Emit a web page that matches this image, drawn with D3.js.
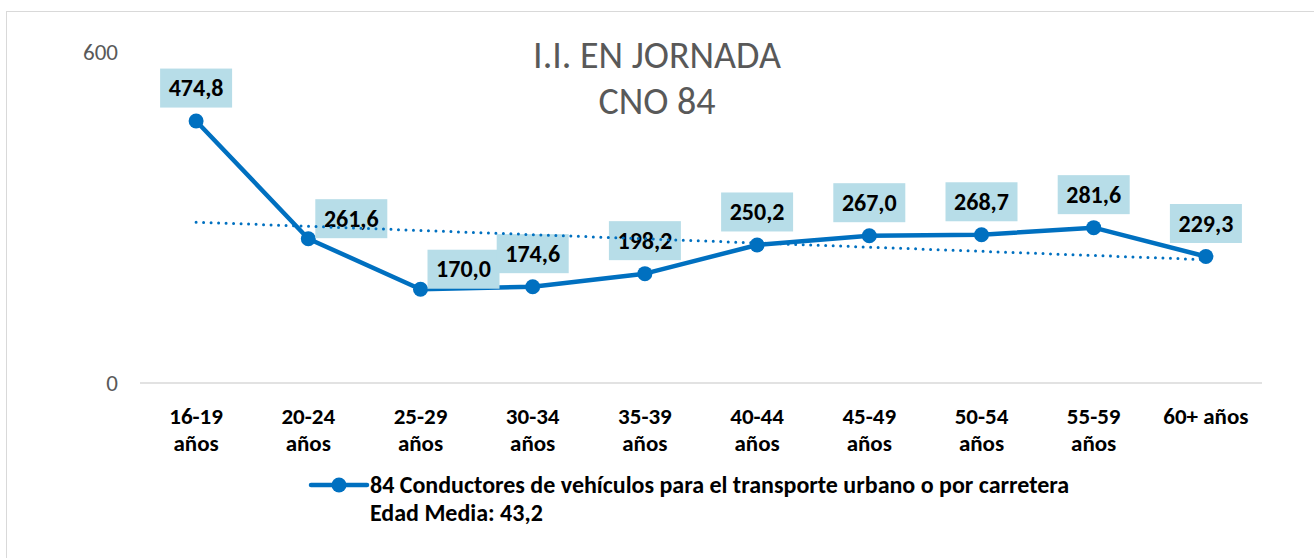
<!DOCTYPE html>
<html><head><meta charset="utf-8">
<script src="https://cdn.jsdelivr.net/npm/d3@7"></script>
<style>
html,body{margin:0;padding:0;background:#fff;}
svg{display:block;font-family:Carlito,Calibri,"Lato","Open Sans",sans-serif;}
</style></head>
<body>
<svg id="c" width="1314" height="558"></svg>
<script>
const categories = ["16-19 años","20-24 años","25-29 años","30-34 años","35-39 años","40-44 años","45-49 años","50-54 años","55-59 años","60+ años"];
const values = [474.8, 261.6, 170.0, 174.6, 198.2, 250.2, 267.0, 268.7, 281.6, 229.3];
const yTicks = [0, 600];
const titleLines = ["I.I. EN JORNADA", "CNO 84"];
const legendLines = ["84 Conductores de vehículos para el transporte urbano o por carretera", "Edad Media: 43,2"];

const svg = d3.select("#c");
const blue = "#0070c0";
const fmt = v => d3.format(".1f")(v).replace(".", ",");

// chart border
svg.append("rect").attr("x",6.5).attr("y",11.5).attr("width",1320).attr("height",560)
  .attr("fill","#fff").attr("stroke","#d9d9d9").attr("stroke-width",1);

const x = d3.scaleBand().domain(categories).range([140,1262]).padding(0);
const y = d3.scaleLinear().domain([0,600]).range([383,52]);

// title
svg.append("g").selectAll("text").data(titleLines).join("text")
  .attr("x",657).attr("y",(d,i)=>68+i*46).attr("text-anchor","middle")
  .attr("fill","#595959").attr("font-size",38).text(d=>d);

// x axis line
svg.append("line").attr("x1",140).attr("x2",1262).attr("y1",y(0)).attr("y2",y(0))
  .attr("stroke","#d9d9d9").attr("stroke-width",1.3);

// y tick labels
svg.append("g").selectAll("text").data(yTicks).join("text")
  .attr("x",118).attr("y",d=>y(d)+8).attr("text-anchor","end")
  .attr("fill","#595959").attr("font-size",23).text(d=>d);

// x labels (wrap when wider than the band allows)
const xl = svg.append("g").selectAll("text").data(categories).join("text")
  .attr("x",d=>x(d)+x.bandwidth()/2).attr("y",424).attr("text-anchor","middle")
  .attr("font-size",23).attr("font-weight","bold").attr("fill","#000").text(d=>d);
xl.each(function(d){
  const el = d3.select(this);
  if (this.getComputedTextLength() > 100) {
    el.text(null);
    el.selectAll("tspan").data(d.split(" ")).join("tspan")
      .attr("x",x(d)+x.bandwidth()/2).attr("dy",(p,i)=>i?27:0).text(p=>p);
  }
});

const cx = (d,i) => x(categories[i]) + x.bandwidth()/2;

// line
const line = d3.line().x((d,i)=>cx(d,i)).y(d=>y(d));
svg.append("path").datum(values).attr("d",line).attr("fill","none")
  .attr("stroke",blue).attr("stroke-width",4.5).attr("stroke-linejoin","round");

// markers
svg.append("g").selectAll("circle").data(values).join("circle")
  .attr("cx",cx).attr("cy",d=>y(d)).attr("r",7.5).attr("fill",blue);

// labels
const rightSide = new Set([1,2]);
const lg = svg.append("g").selectAll("g").data(values).join("g")
  .attr("transform",(d,i)=>{
    const px = cx(d,i), py = y(d);
    return rightSide.has(i) ? `translate(${px+43},${py-20})` : `translate(${px},${py-33})`;
  });
lg.append("rect").attr("x",-36).attr("y",-19.5).attr("width",72).attr("height",39).attr("fill","#b7dde8");
lg.append("text").attr("text-anchor","middle").attr("y",8).attr("font-size",24)
  .attr("font-weight","bold").attr("fill","#000").text(d=>fmt(d));

// linear trendline
const n = values.length;
const xs = d3.range(1,n+1);
const mx = d3.mean(xs), my = d3.mean(values);
const slope = d3.sum(xs.map((xv,i)=>(xv-mx)*(values[i]-my))) / d3.sum(xs.map(xv=>(xv-mx)**2));
const icpt = my - slope*mx;
svg.append("line")
  .attr("x1",cx(null,0)).attr("y1",y(icpt+slope*1))
  .attr("x2",cx(null,n-1)).attr("y2",y(icpt+slope*n))
  .attr("stroke",blue).attr("stroke-width",3).attr("stroke-linecap","round")
  .attr("stroke-dasharray","0 7.5");

// legend
svg.append("line").attr("x1",311).attr("x2",367).attr("y1",485).attr("y2",485)
  .attr("stroke",blue).attr("stroke-width",4.5).attr("stroke-linecap","round");
svg.append("circle").attr("cx",339).attr("cy",485).attr("r",7.5).attr("fill",blue);
svg.append("g").selectAll("text").data(legendLines).join("text")
  .attr("x",370).attr("y",(d,i)=>493+i*28).attr("font-size",24).attr("font-weight","bold")
  .attr("fill","#000").text(d=>d);
</script>
</body></html>
